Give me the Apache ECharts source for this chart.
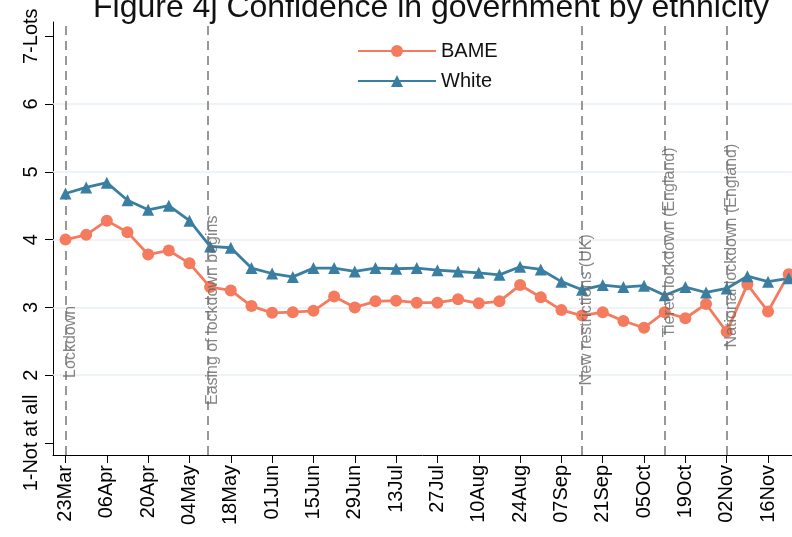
<!DOCTYPE html>
<html>
<head>
<meta charset="utf-8">
<script src="https://cdn.jsdelivr.net/npm/echarts@6/dist/echarts.min.js"></script>
<style>
  html, body { margin: 0; padding: 0; background: #fff; }
  #chart { width: 792px; height: 537px; }
</style>
</head>
<body>
<div id="chart"></div>
<script>
// weekly survey waves
var weeks = ['23Mar', '30Mar', '06Apr', '13Apr', '20Apr', '27Apr', '04May', '11May', '18May', '25May',
    '01Jun', '08Jun', '15Jun', '22Jun', '29Jun', '06Jul', '13Jul', '20Jul', '27Jul', '03Aug',
    '10Aug', '17Aug', '24Aug', '31Aug', '07Sep', '14Sep', '21Sep', '28Sep', '05Oct', '12Oct',
    '19Oct', '26Oct', '02Nov', '09Nov', '16Nov', '23Nov'];

var bame = [4.00, 4.07, 4.28, 4.11, 3.78, 3.84, 3.65, 3.30, 3.25, 3.02,
    2.92, 2.93, 2.95, 3.16, 3.00, 3.09, 3.10, 3.07, 3.07, 3.12,
    3.06, 3.09, 3.33, 3.15, 2.96, 2.88, 2.93, 2.80, 2.70, 2.93,
    2.84, 3.05, 2.64, 3.34, 2.94, 3.49];

var white = [4.68, 4.77, 4.84, 4.58, 4.44, 4.50, 4.28, 3.90, 3.88, 3.58,
    3.50, 3.45, 3.58, 3.58, 3.53, 3.58, 3.57, 3.58, 3.55, 3.53,
    3.51, 3.48, 3.60, 3.56, 3.38, 3.26, 3.33, 3.30, 3.32, 3.18,
    3.30, 3.22, 3.28, 3.46, 3.38, 3.43];

// events (position in weeks from 23Mar) and where their text starts
var eventNames = ['Lockdown', 'Easing of lockdown begins', 'New restrictions (UK)', 'Tiered lockdown (England)', 'National lockdown (England)'];
var eventWeek = [0, 6.9, 25, 29, 32];
var eventTextY = [1.96, 1.56, 1.85, 2.56, 2.41];

var yTicks = [1, 2, 3, 4, 5, 6, 7];
var yTickLabels = {1: '1-Not at all', 7: '7-Lots'};
var gridLevels = [2, 3, 4, 5, 6];

var xTicks = [];
for (var i = 0; i < weeks.length; i += 2) xTicks.push(i);

var FONT = "'Liberation Sans', Arial, sans-serif";
var bameColor = '#f47b5e';
var whiteColor = '#3a7fa2';

var myChart = echarts.init(document.getElementById('chart'), null, { renderer: 'canvas' });

var option = {
    backgroundColor: '#fff',
    animation: false,
    textStyle: { fontFamily: FONT },
    title: {
        text: 'Figure 4j Confidence in government by ethnicity',
        left: 88,
        top: -13,
        textStyle: { fontFamily: FONT, fontSize: 32, fontWeight: 'normal', color: '#111' }
    },
    legend: {
        orient: 'vertical',
        left: 352,
        top: 36,
        itemWidth: 78,
        itemHeight: 15,
        itemGap: 10,
        textStyle: { fontFamily: FONT, fontSize: 20, color: '#111' },
        data: ['BAME', 'White']
    },
    grid: { left: 53, right: 0, top: 22, bottom: 82 },
    xAxis: {
        type: 'value',
        min: -0.605,
        max: 35.16,
        splitLine: { show: false },
        axisLine: { show: true, onZero: false, lineStyle: { color: '#000', width: 1 } },
        axisTick: { show: true, length: 8, lineStyle: { color: '#000' }, customValues: xTicks },
        axisLabel: {
            customValues: xTicks,
            rotate: 90,
            margin: 10,
            fontSize: 20,
            color: '#000',
            fontFamily: FONT,
            formatter: function (v) { return weeks[Math.round(v)]; }
        }
    },
    yAxis: {
        type: 'value',
        min: 0.823,
        max: 7.21,
        splitLine: { show: false },
        axisLine: { show: true, onZero: false, lineStyle: { color: '#000', width: 1 } },
        axisTick: { show: true, length: 8, lineStyle: { color: '#000' }, customValues: yTicks },
        axisLabel: {
            customValues: yTicks,
            rotate: 90,
            margin: 12,
            fontSize: 20,
            color: '#000',
            fontFamily: FONT,
            align: 'center',
            verticalAlign: 'bottom',
            formatter: function (v) { return yTickLabels[v] || String(v); }
        }
    },
    series: [
        {
            name: 'gridlines',
            type: 'line',
            data: [],
            silent: true,
            markLine: {
                silent: true,
                z: 1,
                symbol: 'none',
                label: { show: false },
                lineStyle: { color: '#e9eff4', width: 1.5, type: 'solid' },
                data: gridLevels.map(function (v) { return { yAxis: v }; })
            }
        },
        {
            name: 'events',
            type: 'line',
            data: [],
            silent: true,
            markLine: {
                silent: true,
                z: 1,
                symbol: 'none',
                label: { show: false },
                lineStyle: { color: '#777', width: 1.5, type: [9, 6] },
                data: eventWeek.map(function (w) { return { xAxis: w }; })
            }
        },
        {
            name: 'eventText',
            type: 'scatter',
            symbolSize: 0,
            silent: true,
            z: 4,
            data: eventWeek.map(function (w, k) { return [w - 0.15, eventTextY[k], eventNames[k]]; }),
            label: {
                show: true,
                position: [0, 0],
                rotate: 90,
                align: 'left',
                verticalAlign: 'top',
                fontSize: 16,
                color: '#666',
                fontFamily: FONT,
                formatter: function (p) { return p.data[2]; }
            }
        },
        {
            name: 'BAME',
            type: 'line',
            z: 3,
            data: bame.map(function (v, k) { return [k, v]; }),
            symbol: 'circle',
            symbolSize: 12,
            lineStyle: { color: bameColor, width: 2.8 },
            itemStyle: { color: bameColor }
        },
        {
            name: 'White',
            type: 'line',
            z: 3,
            data: white.map(function (v, k) { return [k, v]; }),
            symbol: 'triangle',
            symbolSize: 12,
            lineStyle: { color: whiteColor, width: 2.8 },
            itemStyle: { color: whiteColor }
        }
    ]
};

myChart.setOption(option);
</script>
</body>
</html>
